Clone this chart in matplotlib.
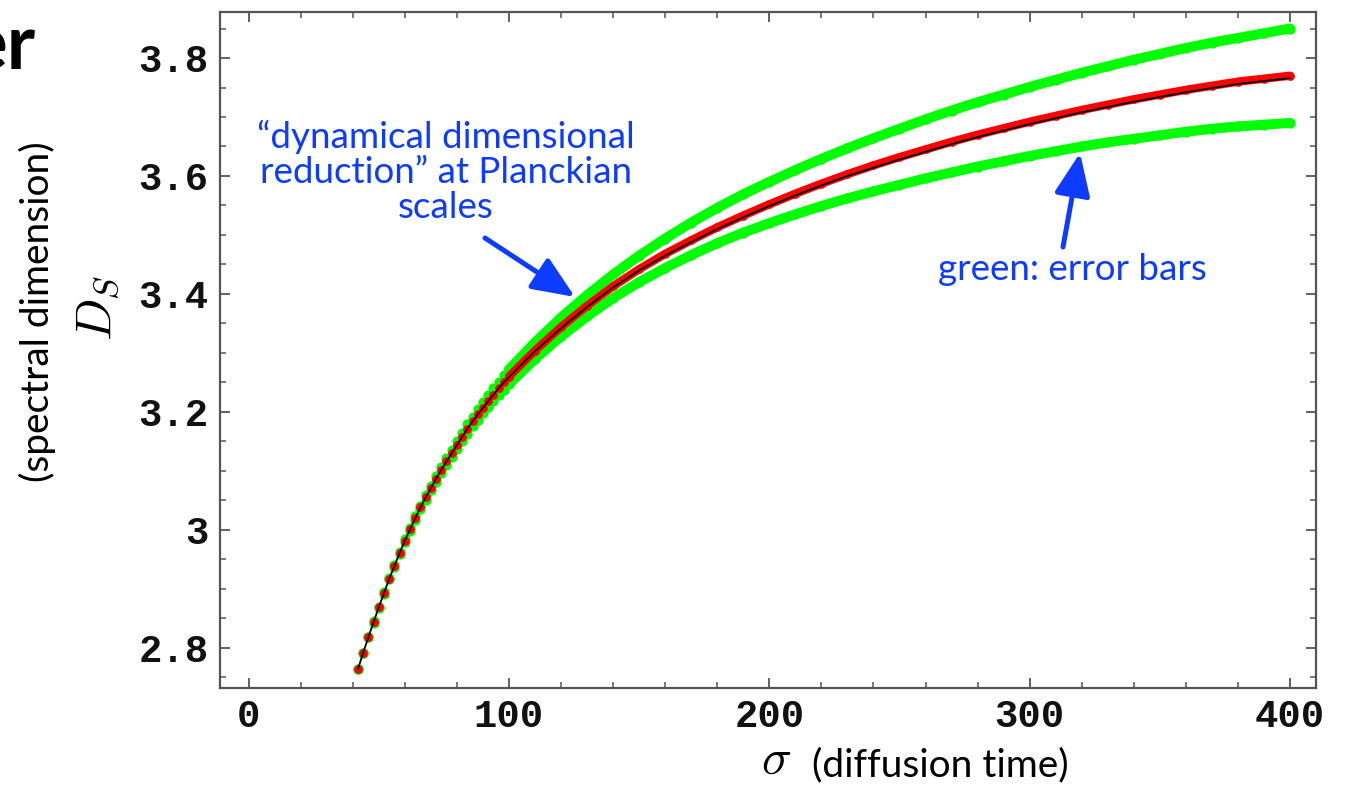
import matplotlib
matplotlib.use("Agg")
import matplotlib.pyplot as plt
from matplotlib.ticker import MultipleLocator, FixedLocator
import numpy as np

# ---- data ----
sigma = [42, 44, 46, 48, 50, 52, 54, 56, 58, 60, 62, 64, 66, 68, 70, 72, 74, 76, 78, 80,
         82, 84, 86, 88, 90, 92, 94, 96, 98, 100,
         110, 120, 130, 140, 150, 160, 170, 180, 190, 200,
         210, 220, 230, 240, 250, 260, 270, 280, 290, 300,
         310, 320, 330, 340, 350, 360, 370, 380, 390, 400]

ds_data = [2.764, 2.792, 2.818, 2.844, 2.869, 2.893, 2.917, 2.939, 2.961, 2.982,
           3.001, 3.020, 3.038, 3.055, 3.071, 3.087, 3.102, 3.116, 3.130, 3.144,
           3.158, 3.171, 3.184, 3.196, 3.207, 3.218, 3.229, 3.240, 3.250, 3.260,
           3.304, 3.344, 3.380, 3.413, 3.442, 3.468, 3.491, 3.513, 3.533, 3.552,
           3.570, 3.587, 3.603, 3.618, 3.632, 3.645, 3.658, 3.670, 3.681, 3.692,
           3.702, 3.712, 3.721, 3.730, 3.738, 3.746, 3.753, 3.760, 3.765, 3.770]

ds_upper = [2.764, 2.792, 2.818, 2.845, 2.870, 2.894, 2.918, 2.941, 2.963, 2.984,
            3.004, 3.023, 3.041, 3.059, 3.075, 3.092, 3.107, 3.122, 3.136, 3.151,
            3.165, 3.179, 3.192, 3.205, 3.217, 3.228, 3.240, 3.251, 3.262, 3.272,
            3.318, 3.360, 3.398, 3.433, 3.465, 3.494, 3.521, 3.546, 3.569, 3.590,
            3.610, 3.629, 3.647, 3.664, 3.680, 3.696, 3.711, 3.725, 3.738, 3.751,
            3.763, 3.775, 3.786, 3.797, 3.807, 3.817, 3.826, 3.834, 3.842, 3.850]

ds_lower = [2.764, 2.792, 2.818, 2.843, 2.868, 2.892, 2.916, 2.937, 2.959, 2.980,
            2.998, 3.017, 3.035, 3.051, 3.067, 3.082, 3.097, 3.110, 3.124, 3.137,
            3.151, 3.163, 3.176, 3.187, 3.198, 3.208, 3.219, 3.229, 3.238, 3.247,
            3.290, 3.328, 3.362, 3.393, 3.420, 3.444, 3.466, 3.486, 3.504, 3.520,
            3.535, 3.549, 3.562, 3.574, 3.585, 3.596, 3.606, 3.616, 3.625, 3.634,
            3.642, 3.650, 3.657, 3.663, 3.669, 3.675, 3.680, 3.684, 3.687, 3.690]

ds_fit = [2.764, 2.792, 2.818, 2.844, 2.869, 2.893, 2.917, 2.939, 2.961, 2.982,
          3.001, 3.020, 3.038, 3.055, 3.071, 3.087, 3.102, 3.116, 3.130, 3.144,
          3.158, 3.171, 3.184, 3.196, 3.207, 3.218, 3.229, 3.240, 3.250, 3.259,
          3.303, 3.342, 3.378, 3.411, 3.440, 3.465, 3.488, 3.510, 3.530, 3.549,
          3.567, 3.584, 3.600, 3.614, 3.628, 3.641, 3.654, 3.666, 3.677, 3.688,
          3.698, 3.708, 3.717, 3.726, 3.734, 3.742, 3.749, 3.756, 3.761, 3.766]

x_ticks = [0, 100, 200, 300, 400]
y_ticks = [2.8, 3.0, 3.2, 3.4, 3.6, 3.8]
y_tick_labels = ["2.8", "3", "3.2", "3.4", "3.6", "3.8"]

BLUE = "#0D3BFF"
SANS = ["Lato", "DejaVu Sans"]

plt.rcParams["mathtext.fontset"] = "cm"

fig = plt.figure(figsize=(13.47, 7.87), dpi=100)
W, H = 1347, 787
ax = fig.add_axes([220 / W, (H - 688) / H, (1316 - 220) / W, (688 - 12) / H])

s = np.array(sigma)
dense = s >= 100

for ys in (ds_lower, ds_upper):
    ya = np.array(ys)
    ax.plot(s[dense], ya[dense], color="#00FF00", lw=7.2, solid_capstyle="round", zorder=2)
    ax.plot(s, ya, "o", color="#00FF00", ms=7.4, mew=0, zorder=2)

yd = np.array(ds_data)
ax.plot(s[dense], yd[dense], color="#FF0000", lw=6.0, solid_capstyle="round", zorder=3)
ax.plot(s, yd, "o", color="#FF0000", ms=6.3, mew=0, zorder=3)
ax.plot(s, ds_fit, color="black", lw=1.3, zorder=4)

ax.set_xlim(-11, 410)
ax.set_ylim(2.732, 3.878)

ax.xaxis.set_major_locator(FixedLocator(x_ticks))
ax.xaxis.set_minor_locator(MultipleLocator(20))
ax.set_yticks(y_ticks)
ax.set_yticklabels(y_tick_labels)
ax.yaxis.set_minor_locator(MultipleLocator(0.05))
ax.set_xticklabels([str(v) for v in x_ticks])

ax.tick_params(which="both", direction="in", top=True, right=True, color="#555555")
ax.tick_params(which="major", length=7, width=1.3, pad=8)
ax.tick_params(which="minor", length=4, width=1.1)
for lab in ax.get_xticklabels() + ax.get_yticklabels():
    lab.set_fontfamily("Liberation Mono")
    lab.set_fontweight("bold")
    lab.set_fontsize(28)
    lab.set_color("#111111")
for sp in ax.spines.values():
    sp.set_color("#555555")
    sp.set_linewidth(1.6)

# axis labels
fig.text(37 / W, (H - 312) / H, "(spectral dimension)", rotation=90, ha="center", va="center",
         fontsize=28, family=SANS, color="black")
fig.text(97 / W, (H - 308) / H, r"$D_S$", rotation=90, ha="center", va="center",
         fontsize=36, color="black")
fig.text(776 / W, (H - 760) / H, r"$\sigma$", ha="center", va="center", fontsize=36, color="black")
fig.text(812 / W, (H - 765) / H, "(diffusion time)", ha="left", va="center",
         fontsize=28, family=SANS, color="black")

# cut-off slide title
fig.text(36 / W, (H - 70) / H, "er", ha="right", va="baseline", fontsize=55,
         family=SANS, fontweight="bold", color="black")

# annotations
fig.text(446 / W, (H - 172) / H, "\u201cdynamical dimensional\nreduction\u201d at Planckian\nscales",
         ha="center", va="center", multialignment="center", fontsize=26.5, family=SANS,
         color=BLUE, linespacing=1.06)
fig.text(1072 / W, (H - 270) / H, "green: error bars", ha="center", va="center",
         fontsize=26.5, family=SANS, color=BLUE)

arrow_kw = dict(arrowstyle="-|>,head_length=1.3,head_width=0.55", color=BLUE, lw=3.6,
                shrinkA=0, shrinkB=0, mutation_scale=20)
ax.annotate("", xy=(575, H - 297), xycoords="figure pixels",
            xytext=(485, H - 238), textcoords="figure pixels", arrowprops=arrow_kw)
ax.annotate("", xy=(1080, H - 153), xycoords="figure pixels",
            xytext=(1063, H - 247), textcoords="figure pixels", arrowprops=arrow_kw)

fig.savefig("out.png", dpi=100)
